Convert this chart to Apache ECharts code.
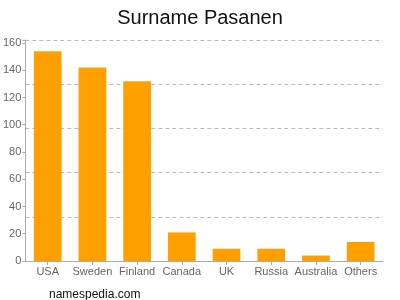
<!DOCTYPE html>
<html><head><meta charset="utf-8">
<script src="https://cdn.jsdelivr.net/npm/echarts@6/dist/echarts.min.js"></script>
<style>html,body{margin:0;padding:0;background:#fff}#c{width:400px;height:300px}</style>
</head><body><div id="c"></div>
<script>
var categories = ["USA","Sweden","Finland","Canada","UK","Russia","Australia","Others"];
var values = [154, 142, 132, 21, 9, 9, 4, 14];
var yTicks = [0,20,40,60,80,100,120,140,160];
var yMax = 162.2;

var chart = echarts.init(document.getElementById('c'), null, {renderer:'canvas'});
chart.setOption({
  animation: false,
  title: [{
    text: 'Surname Pasanen', left: 'center', top: 3,
    textStyle: {fontFamily: 'Liberation Sans, Arial', fontSize: 20, fontWeight: 'normal', color: '#111'}
  },{
    text: 'namespedia.com', left: 44, top: 284,
    textStyle: {fontFamily: 'Liberation Sans, Arial', fontSize: 12, fontWeight: 'normal', color: '#111'}
  }],
  grid: {left: 24, right: 17, top: 40, bottom: 39},
  xAxis: {
    type: 'category', data: categories,
    axisLine: {lineStyle: {color: '#aaa'}},
    axisTick: {show: true, alignWithLabel: true, length: 4, lineStyle: {color: '#aaa'}},
    axisLabel: {color: '#666', fontSize: 11, fontFamily: 'Liberation Sans, Arial', margin: 5, interval: 0}
  },
  yAxis: [{
    type: 'value', min: 0, max: yMax, interval: 20,
    axisLine: {show: true, lineStyle: {color: '#aaa'}},
    axisTick: {show: true, length: 3, lineStyle: {color: '#aaa'}},
    axisLabel: {color: '#666', fontSize: 11, fontFamily: 'Liberation Sans, Arial', margin: 4,
      formatter: function(v){ return yTicks.indexOf(v) >= 0 ? String(v) : ''; }},
    splitLine: {show: false}
  },{
    type: 'value', min: 0, max: yMax, interval: yMax/5, position: 'left',
    axisLine: {show: false}, axisTick: {show: false}, axisLabel: {show: false},
    splitLine: {show: true, lineStyle: {color: '#bbb', type: [4,3], width: 1}}
  }],
  series: [{
    type: 'bar', data: values, yAxisIndex: 0, barWidth: '62%',
    itemStyle: {color: '#ffa000'}
  }]
});
</script></body></html>
